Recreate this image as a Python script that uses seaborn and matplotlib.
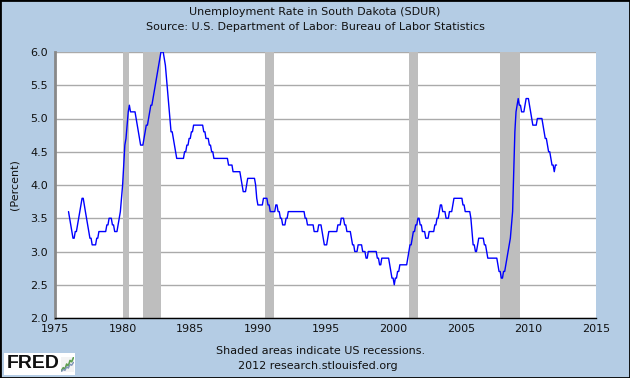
import pandas as pd
import seaborn as sns
import matplotlib.pyplot as plt
import matplotlib.dates as mdates
from matplotlib.patches import Rectangle

# South Dakota unemployment rate (SDUR), monthly, percent, from Jan 1976
start_month = "1976-01-01"
rate = [
    3.6, 3.5, 3.4, 3.3, 3.2, 3.2, 3.3, 3.3, 3.4, 3.5, 3.6, 3.7,  # 1976
    3.8, 3.8, 3.7, 3.6, 3.5, 3.4, 3.3, 3.2, 3.2, 3.1, 3.1, 3.1,  # 1977
    3.1, 3.2, 3.2, 3.3, 3.3, 3.3, 3.3, 3.3, 3.3, 3.3, 3.4, 3.4,  # 1978
    3.5, 3.5, 3.5, 3.4, 3.4, 3.3, 3.3, 3.3, 3.4, 3.5, 3.6, 3.8,  # 1979
    4.0, 4.3, 4.6, 4.7, 4.9, 5.1, 5.2, 5.1, 5.1, 5.1, 5.1, 5.1,  # 1980
    5.0, 4.9, 4.8, 4.7, 4.6, 4.6, 4.6, 4.7, 4.8, 4.9, 4.9, 5.0,  # 1981
    5.1, 5.2, 5.2, 5.3, 5.4, 5.5, 5.6, 5.7, 5.8, 5.9, 6.0, 6.0,  # 1982
    6.0, 5.9, 5.8, 5.6, 5.4, 5.2, 5.0, 4.8, 4.8, 4.7, 4.6, 4.5,  # 1983
    4.4, 4.4, 4.4, 4.4, 4.4, 4.4, 4.4, 4.5, 4.5, 4.6, 4.6, 4.7,  # 1984
    4.7, 4.8, 4.8, 4.9, 4.9, 4.9, 4.9, 4.9, 4.9, 4.9, 4.9, 4.9,  # 1985
    4.8, 4.8, 4.7, 4.7, 4.7, 4.6, 4.6, 4.5, 4.5, 4.4, 4.4, 4.4,  # 1986
    4.4, 4.4, 4.4, 4.4, 4.4, 4.4, 4.4, 4.4, 4.4, 4.4, 4.3, 4.3,  # 1987
    4.3, 4.3, 4.2, 4.2, 4.2, 4.2, 4.2, 4.2, 4.2, 4.1, 4.0, 3.9,  # 1988
    3.9, 3.9, 4.0, 4.1, 4.1, 4.1, 4.1, 4.1, 4.1, 4.1, 4.0, 3.8,  # 1989
    3.7, 3.7, 3.7, 3.7, 3.7, 3.8, 3.8, 3.8, 3.8, 3.7, 3.7, 3.6,  # 1990
    3.6, 3.6, 3.6, 3.6, 3.7, 3.7, 3.6, 3.6, 3.5, 3.5, 3.4, 3.4,  # 1991
    3.4, 3.5, 3.5, 3.6, 3.6, 3.6, 3.6, 3.6, 3.6, 3.6, 3.6, 3.6,  # 1992
    3.6, 3.6, 3.6, 3.6, 3.6, 3.6, 3.5, 3.5, 3.4, 3.4, 3.4, 3.4,  # 1993
    3.4, 3.4, 3.3, 3.3, 3.3, 3.3, 3.4, 3.4, 3.4, 3.3, 3.2, 3.1,  # 1994
    3.1, 3.1, 3.2, 3.3, 3.3, 3.3, 3.3, 3.3, 3.3, 3.3, 3.3, 3.4,  # 1995
    3.4, 3.4, 3.5, 3.5, 3.5, 3.4, 3.4, 3.3, 3.3, 3.3, 3.3, 3.2,  # 1996
    3.1, 3.1, 3.0, 3.0, 3.0, 3.1, 3.1, 3.1, 3.1, 3.0, 3.0, 3.0,  # 1997
    2.9, 2.9, 3.0, 3.0, 3.0, 3.0, 3.0, 3.0, 3.0, 3.0, 2.9, 2.9,  # 1998
    2.8, 2.8, 2.9, 2.9, 2.9, 2.9, 2.9, 2.9, 2.9, 2.8, 2.7, 2.6,  # 1999
    2.6, 2.5, 2.6, 2.6, 2.7, 2.7, 2.8, 2.8, 2.8, 2.8, 2.8, 2.8,  # 2000
    2.8, 2.9, 3.0, 3.1, 3.1, 3.2, 3.3, 3.3, 3.4, 3.4, 3.5, 3.5,  # 2001
    3.4, 3.4, 3.3, 3.3, 3.3, 3.2, 3.2, 3.2, 3.3, 3.3, 3.3, 3.3,  # 2002
    3.3, 3.4, 3.4, 3.5, 3.5, 3.6, 3.7, 3.7, 3.6, 3.6, 3.6, 3.5,  # 2003
    3.5, 3.5, 3.6, 3.6, 3.6, 3.7, 3.8, 3.8, 3.8, 3.8, 3.8, 3.8,  # 2004
    3.8, 3.8, 3.7, 3.7, 3.6, 3.6, 3.6, 3.6, 3.6, 3.5, 3.3, 3.1,  # 2005
    3.1, 3.0, 3.0, 3.1, 3.2, 3.2, 3.2, 3.2, 3.2, 3.1, 3.1, 3.0,  # 2006
    2.9, 2.9, 2.9, 2.9, 2.9, 2.9, 2.9, 2.9, 2.9, 2.8, 2.7, 2.7,  # 2007
    2.6, 2.6, 2.7, 2.7, 2.8, 2.9, 3.0, 3.1, 3.2, 3.4, 3.6, 4.2,  # 2008
    4.8, 5.1, 5.2, 5.3, 5.2, 5.2, 5.1, 5.1, 5.1, 5.2, 5.3, 5.3,  # 2009
    5.3, 5.2, 5.1, 5.0, 4.9, 4.9, 4.9, 4.9, 5.0, 5.0, 5.0, 5.0,  # 2010
    5.0, 4.9, 4.8, 4.7, 4.7, 4.6, 4.5, 4.5, 4.4, 4.3, 4.3, 4.2,  # 2011
    4.3, 4.3,                                                    # 2012
]

# US recessions (shaded)
recession_start = ["1980-01-01", "1981-07-01", "1990-07-01", "2001-03-01", "2007-12-01"]
recession_end = ["1980-07-01", "1982-11-01", "1991-03-01", "2001-11-01", "2009-06-01"]

y_ticks = [2.0, 2.5, 3.0, 3.5, 4.0, 4.5, 5.0, 5.5, 6.0]

# little trend line in the FRED logo
icon_line = [1.0, 1.6, 1.3, 2.4, 2.0, 3.2, 2.9, 3.8]

df = pd.DataFrame({
    "date": pd.date_range(start_month, periods=len(rate), freq="MS"),
    "rate": rate,
})

bg = "#B4CCE4"
sns.set_style("white")
plt.rcParams["font.family"] = ["DejaVu Sans"]

fig = plt.figure(figsize=(6.3, 3.78), dpi=100, facecolor=bg)
ax = fig.add_axes([55 / 630, 1 - 318 / 378, 541 / 630, 266 / 378])
ax.set_facecolor("white")

for s, e in zip(recession_start, recession_end):
    ax.axvspan(pd.Timestamp(s), pd.Timestamp(e), color="#BEBEBE", lw=0, zorder=1)

sns.lineplot(data=df, x="date", y="rate", color="#0000FF", lw=1.0, ax=ax, zorder=3)

ax.set_xlim(pd.Timestamp("1975-01-01"), pd.Timestamp("2015-01-01"))
ax.set_ylim(2.0, 6.0)
ax.set_yticks(y_ticks)
ax.set_yticklabels([f"{v:.1f}" for v in y_ticks])
ax.xaxis.set_major_locator(mdates.YearLocator(5))
ax.xaxis.set_major_formatter(mdates.DateFormatter("%Y"))
ax.set_xlabel("")
ax.set_ylabel("")

ax.set_axisbelow(True)
ax.yaxis.grid(True, color="#AAAAAA", lw=1)
ax.xaxis.grid(False)
ax.tick_params(axis="both", direction="in", length=5, width=1, color="black",
               labelsize=8, labelcolor="#111111")
ax.tick_params(axis="y", pad=5)
ax.tick_params(axis="x", pad=4)

for side in ["top", "right"]:
    ax.spines[side].set_visible(False)
ax.spines["left"].set_color("#888888")
ax.spines["left"].set_linewidth(2)
ax.spines["bottom"].set_color("black")
ax.spines["bottom"].set_linewidth(1)

fig.text(15 / 630, 1 - 185 / 378, "(Percent)", rotation=90, ha="center", va="center",
         fontsize=8, color="#111111")

fig.text(0.5, 1 - 12 / 378, "Unemployment Rate in South Dakota (SDUR)",
         ha="center", va="center", fontsize=8, color="#111111")
fig.text(0.5, 1 - 27 / 378, "Source: U.S. Department of Labor: Bureau of Labor Statistics",
         ha="center", va="center", fontsize=8, color="#111111")

fig.text(321 / 630, 1 - 351 / 378, "Shaded areas indicate US recessions.",
         ha="center", va="center", fontsize=8, color="#111111")
fig.text(318 / 630, 1 - 366 / 378, "2012 research.stlouisfed.org",
         ha="center", va="center", fontsize=8, color="#111111")

# FRED logo
fig.patches.append(Rectangle((4 / 630, 1 - 375 / 378), 71 / 630, 22 / 378,
                             transform=fig.transFigure, facecolor="white",
                             edgecolor="none", zorder=-1))
fig.text(7 / 630, 1 - 364 / 378, "FRED", ha="left", va="center", fontsize=14,
         fontweight="bold", family="Liberation Sans", color="#111111")
icon = fig.add_axes([61 / 630, 1 - 372 / 378, 13 / 630, 15 / 378])
icon.set_zorder(5)
icon.plot(range(len(icon_line)), icon_line, color="#5FA050", lw=1.2)
icon.plot(range(len(icon_line)), [v * 0.7 + 0.1 for v in icon_line], color="#7F95B8", lw=1.0)
icon.set_xticks([])
icon.set_yticks([])
icon.set_facecolor("#F4F4F4")
for sp in icon.spines.values():
    sp.set_visible(False)

fig.patches.append(Rectangle((0, 0), 1, 1, transform=fig.transFigure,
                             fill=False, edgecolor="black", lw=2, zorder=10))

fig.savefig("out.png", dpi=100, facecolor=bg)
